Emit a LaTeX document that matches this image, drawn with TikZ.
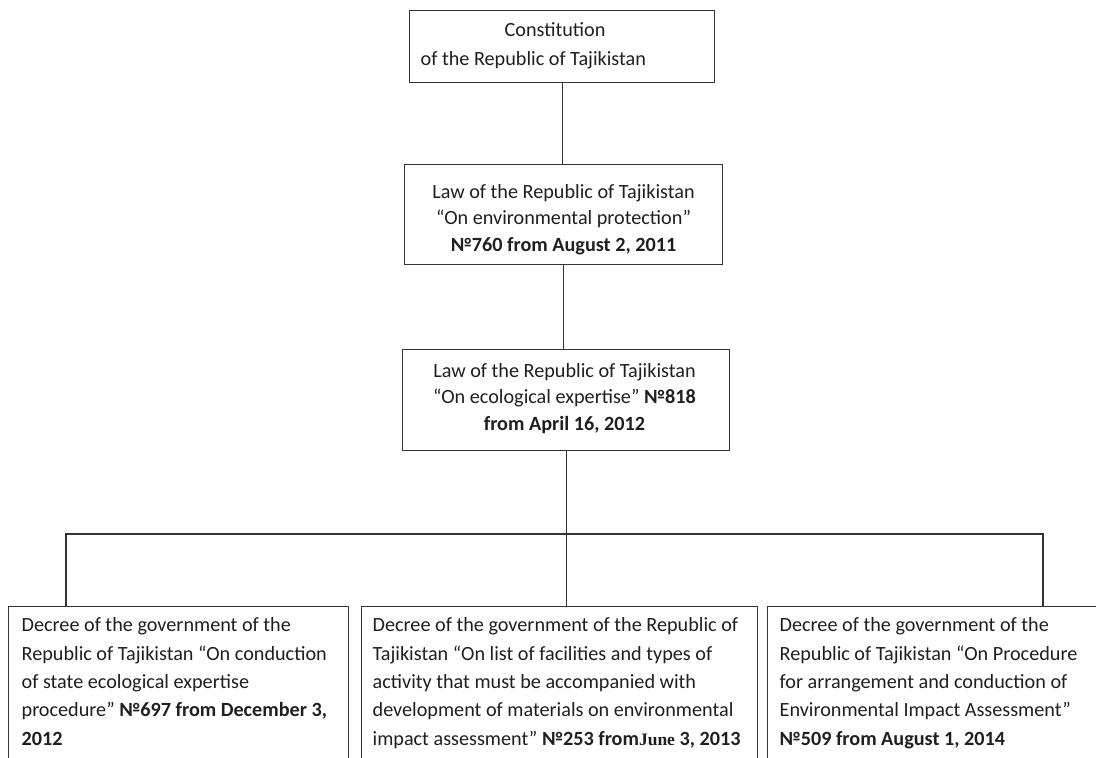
\documentclass[tikz,border=0pt]{standalone}
\usepackage{fontspec}
\setmainfont{Carlito}
\newfontfamily\junefont{Liberation Serif}
\usepackage{tikz}

\begin{document}
\begin{tikzpicture}[x=1pt, y=-1pt, line width=1.3pt,
  frame/.style={draw=black!80, rectangle, inner sep=0pt, anchor=north west},
  txt/.style={inner sep=0pt, text=black!88, font=\fontsize{20.2}{28.3}\selectfont},
  lawtxt/.style={txt, align=center, anchor=base, font=\fontsize{20.2}{26.3}\selectfont},
  dectxt/.style={txt, align=left, anchor=base west}]
\useasboundingbox (0,0) rectangle (1096,758);
\clip (0,0) rectangle (1096,758);

% frames
\node[frame, minimum width=305pt, minimum height=72pt] (constit) at (409,10) {};
\node[frame, minimum width=318pt, minimum height=100pt] (lawEnv) at (404,164) {};
\node[frame, minimum width=327pt, minimum height=101pt] (lawEco) at (402,349) {};
\node[frame, minimum width=340pt, minimum height=180pt] (decA) at (8,606) {};
\node[frame, minimum width=396pt, minimum height=180pt] (decB) at (361,606) {};
\node[frame, minimum width=345pt, minimum height=180pt] (decC) at (767,606) {};

% texts (anchored on the last baseline)
\node[txt, align=left, anchor=base west, font=\fontsize{20.2}{29}\selectfont] (constitTxt) at (420,65)
  {\hspace*{84pt}Constitution\\of the Republic of Tajikistan};
\node[lawtxt] (lawEnvTxt) at (563.5,251)
  {Law of the Republic of Tajikistan\\“On environmental protection”\\\textbf{№760 from August 2, 2011}};
\node[lawtxt] (lawEcoTxt) at (564.5,430)
  {Law of the Republic of Tajikistan\\“On ecological expertise” \textbf{№818}\\\textbf{from April 16, 2012}};
\node[dectxt] (decATxt) at (21,745)
  {Decree of the government of the\\Republic of Tajikistan “On conduction\\of state ecological expertise\\procedure” \textbf{№697 from December 3,}\\\textbf{2012}};
\node[dectxt] (decBTxt) at (372,745)
  {Decree of the government of the Republic of\\Tajikistan “On list of facilities and types of\\activity that must be accompanied with\\development of materials on environmental\\impact assessment” \textbf{№253 from{\junefont\fontsize{17.5}{28.3}\selectfont June} 3, 2013}};
\node[dectxt] (decCTxt) at (779,745)
  {Decree of the government of the\\Republic of Tajikistan “On Procedure\\for arrangement and conduction of\\Environmental Impact Assessment”\\\textbf{№509 from August 1, 2014}};

% connectors
\coordinate (busL) at (66,534);
\coordinate (busR) at (1043,534);
\draw[black!80] (constit.south) -- (constit.south |- lawEnv.north);
\draw[black!80] (lawEnv.south) -- (lawEnv.south |- lawEco.north);
\draw[black!80] (lawEco.south) -- (lawEco.south |- decB.north);
\draw[black!80] (busL |- decA.north) -- (busL) -- (busR) -- (busR |- decC.north);
\end{tikzpicture}
\end{document}
